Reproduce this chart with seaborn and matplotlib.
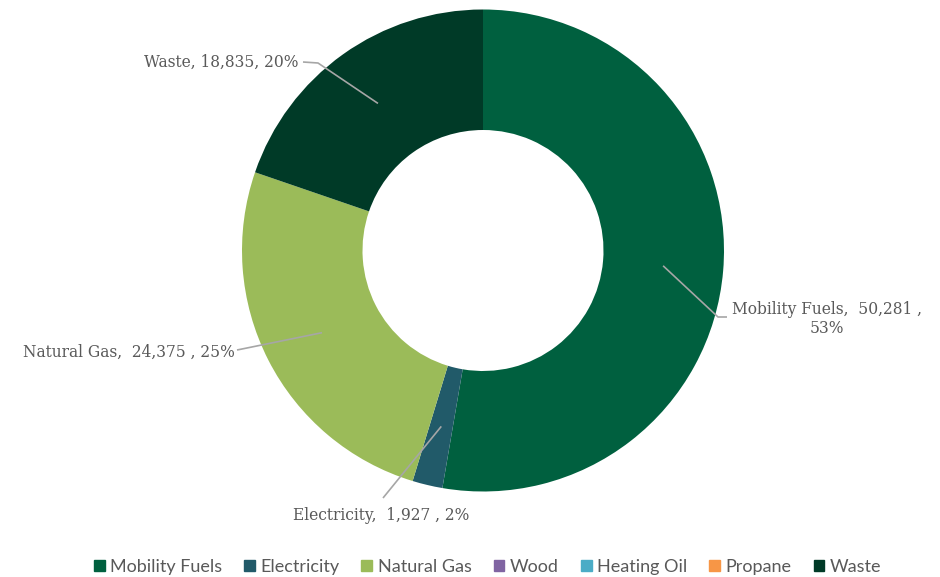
import numpy as np
import matplotlib
matplotlib.use("Agg")
import matplotlib.pyplot as plt
import seaborn as sns

# ---- data ----
categories = ["Mobility Fuels", "Electricity", "Natural Gas", "Wood", "Heating Oil", "Propane", "Waste"]
values = [50281, 1927, 24375, 0, 0, 0, 18835]
percents = [53, 2, 25, 0, 0, 0, 20]
colors = ["#00603F", "#215A69", "#9BBB59", "#8064A2", "#4BACC6", "#F79646", "#003A27"]

label_texts = {
    "Mobility Fuels": "Mobility Fuels,  50,281 ,\n53%",
    "Electricity": "Electricity,  1,927 , 2%",
    "Natural Gas": "Natural Gas,  24,375 , 25%",
    "Waste": "Waste, 18,835, 20%",
}

sns.set_theme(style="white")
plt.rcParams["font.family"] = ["DejaVu Serif"]

W, H = 940, 577
fig = plt.figure(figsize=(W / 100, H / 100), dpi=100)
cx, cy, R = 483, 250.5, 241
ax = fig.add_axes([(cx - R) / W, 1 - (cy + R) / H, 2 * R / W, 2 * R / H])

wedges, _ = ax.pie(values, colors=colors, startangle=90, counterclock=False,
                   radius=1.0, wedgeprops=dict(width=0.5, linewidth=0))
ax.set_xlim(-1, 1)
ax.set_ylim(-1, 1)
ax.set_aspect("equal")
ax.axis("off")

def px(x, y):
    return ((x - cx) / R, (cy - y) / R)

# label layout (pixel positions): elbow point, text anchor, alignment
layout = {
    "Mobility Fuels": dict(elbow=(718, 317), end=(727, 317), text=(827, 319), ha="center"),
    "Electricity": dict(elbow=None, end=(383, 498), text=(381, 515), ha="center"),
    "Natural Gas": dict(elbow=(242, 349), end=(237, 350), text=(235, 352), ha="right"),
    "Waste": dict(elbow=(318, 63), end=(303, 62), text=(298, 62), ha="right"),
}

total = sum(values)
cum = 0.0
line_col = "#A6A6A6"
text_col = "#595959"
for cat, v in zip(categories, values):
    mid = cum + v / 2.0
    cum += v
    if cat not in layout:
        continue
    ang = np.deg2rad(90 - 360 * mid / total)
    sx, sy = 0.75 * np.cos(ang), 0.75 * np.sin(ang)
    L = layout[cat]
    pts = [(sx, sy)]
    if L["elbow"] is not None:
        pts.append(px(*L["elbow"]))
    pts.append(px(*L["end"]))
    xs, ys = zip(*pts)
    ax.plot(xs, ys, color=line_col, lw=1.2, clip_on=False, solid_capstyle="butt")
    tx, ty = px(*L["text"])
    ax.text(tx, ty, label_texts[cat], ha=L["ha"], va="center", multialignment="center",
            fontsize=11.2, color=text_col, clip_on=False)

handles = [plt.Rectangle((0, 0), 1, 1, color=c) for c in colors]
leg = fig.legend(handles, categories, loc="center", bbox_to_anchor=(487.5 / W, 1 - 567 / H),
                 ncol=7, frameon=False, handlelength=0.6, handleheight=0.6,
                 handletextpad=0.3, columnspacing=1.22,
                 prop=dict(family="Lato", size=13))
for t in leg.get_texts():
    t.set_color(text_col)

fig.savefig("out.png", dpi=100)
